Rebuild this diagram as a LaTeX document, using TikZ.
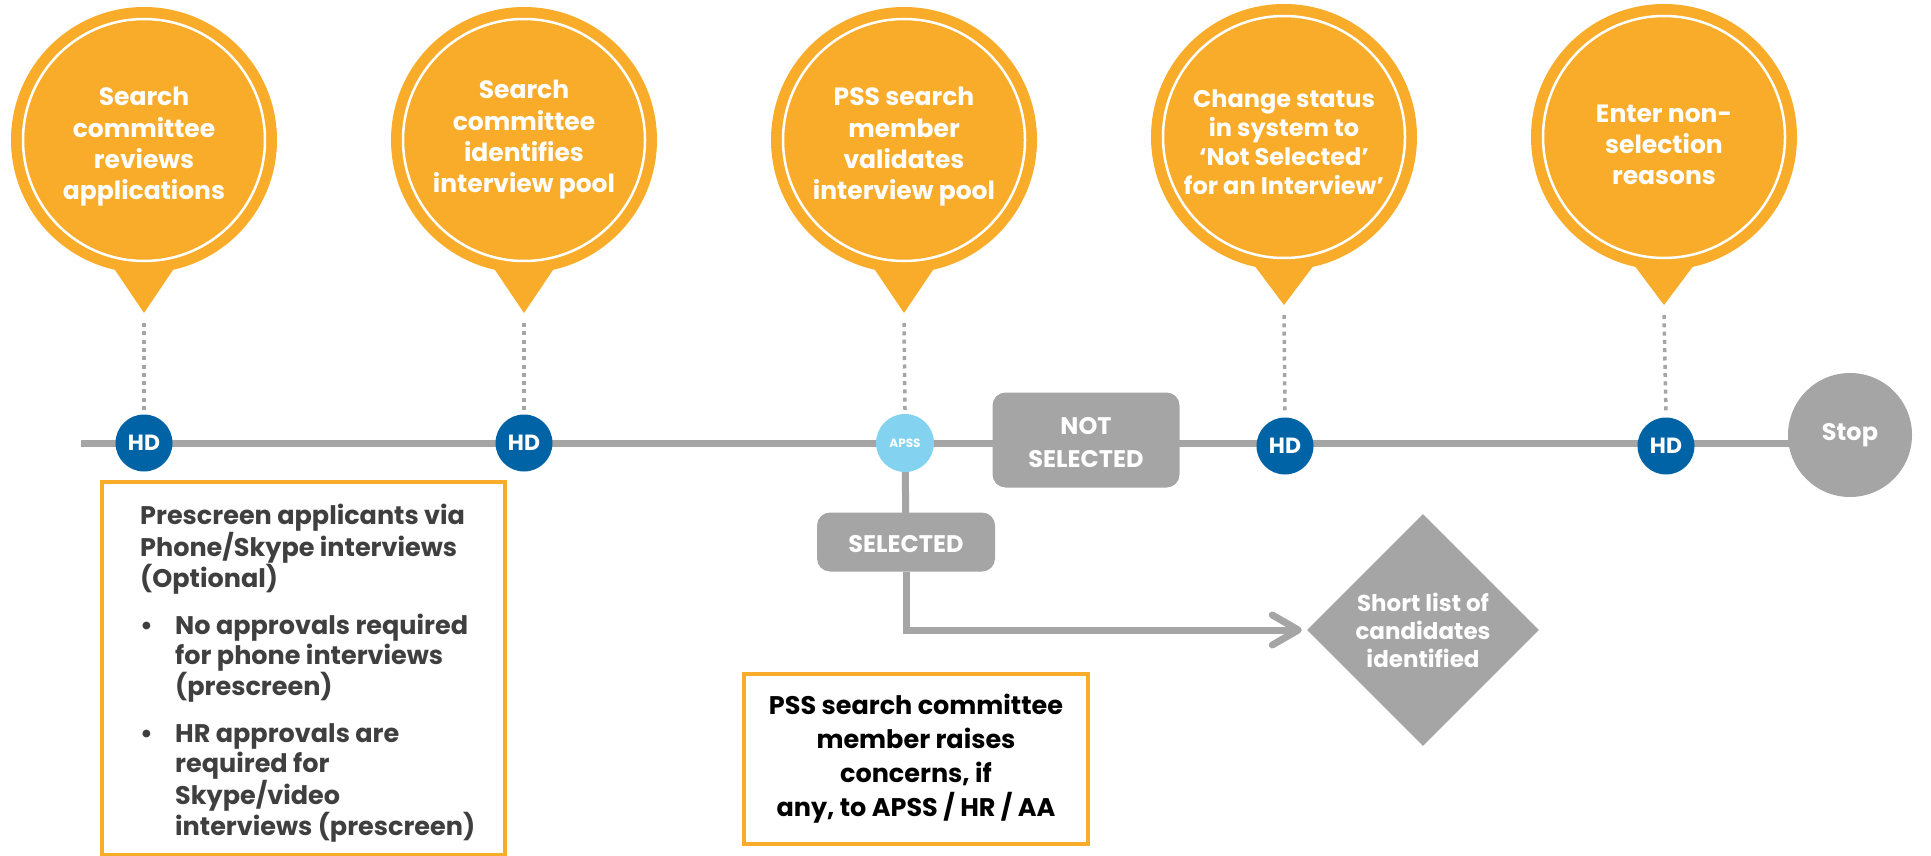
\documentclass[tikz,border=0pt]{standalone}
\usepackage{fontspec}
\setmainfont{Poppins}
\usetikzlibrary{shapes.geometric,arrows.meta,calc}
\definecolor{org}{HTML}{F9AC2A}
\definecolor{gr}{HTML}{A5A5A5}
\definecolor{hdblue}{HTML}{0063A5}
\definecolor{lblue}{HTML}{83D3F0}
\definecolor{dtext}{HTML}{3F3F3F}
\pgfdeclarelayer{bg}
\pgfsetlayers{bg,main}
\begin{document}
\begin{tikzpicture}[x=1pt,y=-1pt,
  balloon/.style={circle, fill=org, minimum size=266pt, inner sep=0pt},
  ring/.style={white, line width=2.5pt},
  btext/.style={text=white, font=\bfseries\fontsize{25}{31.3}\selectfont, align=center, inner sep=0pt},
  hd/.style={circle, fill=hdblue, minimum size=57pt, inner sep=0pt, text=white, font=\bfseries\fontsize{22}{22}\selectfont},
  apssnode/.style={circle, fill=lblue, minimum size=58pt, inner sep=0pt, text=white, font=\bfseries\fontsize{12}{12}\selectfont},
  dotline/.style={gr, line width=3.5pt, dash pattern=on 4pt off 4.3pt},
  track/.style={gr, line width=7pt},
  graybox/.style={rectangle, rounded corners=13pt, fill=gr, inner sep=0pt},
  graytext/.style={text=white, font=\bfseries\fontsize{24}{33}\selectfont, align=center, inner sep=0pt},
  notebox/.style={draw=org, line width=3.5pt, fill=white, inner sep=0pt}
]
\useasboundingbox (0,0) rectangle (1931,856);

% balloons
\foreach \n/\x/\y/\ty in {1/144/140/313, 2/524/140/313, 3/904/140/313, 4/1284/137/305, 5/1664/137/305}{
  \node[balloon] (b\n) at (\x,\y) {};
  \coordinate (tip\n) at (\x,\ty);
  \fill[org] ($(b\n.center)+(-33,124)$) -- ($(b\n.center)+(33,124)$) -- (tip\n) -- cycle;
  \draw[ring] (b\n.center) circle[radius=121pt];
}
\node[btext] (t1) at (144,147) {Search\\committee\\reviews\\applications};
\node[btext] (t2) at (524,140) {Search\\committee\\identifies\\interview pool};
\node[btext] (t3) at (904,147) {PSS search\\member\\validates\\interview pool};
\node[btext, font=\bfseries\fontsize{24}{29}\selectfont] (t4) at (1284,142) {Change status\\in system to\\‘Not Selected’\\for an Interview’};
\node[btext] (t5) at (1664,145) {Enter non-\\selection\\reasons};

% timeline nodes
\coordinate (start) at (81,443);
\node[hd] (hd1) at (144,443) {\raisebox{-2pt}{HD}};
\node[hd] (hd2) at (524,443) {\raisebox{-2pt}{HD}};
\node[apssnode] (apss) at (905,443) {APSS};
\node[graybox, minimum width=187pt, minimum height=95pt] (notsel) at (1086,440) {};
\node[graytext] (notseltext) at ([yshift=-3pt]notsel.center) {NOT\\SELECTED};
\node[hd] (hd4) at (1285,446) {\raisebox{-2pt}{HD}};
\node[hd] (hd5) at (1666,446) {\raisebox{-2pt}{HD}};
\node[circle, fill=gr, minimum size=124pt, inner sep=0pt, text=white, font=\bfseries\fontsize{24}{24}\selectfont] (stop) at (1850,435) {\raisebox{-3pt}{Stop}};

\begin{pgfonlayer}{bg}
  \draw[track] (start) -- (start -| stop.center);
\end{pgfonlayer}

% dotted drops
\foreach \n/\h in {1/hd1, 2/hd2, 3/apss, 4/hd4, 5/hd5}{
  \draw[dotline] ($(tip\n)+(0,10)$) -- ([yshift=4pt]\h.north);
}

% selected branch
\node[graybox, minimum width=178pt, minimum height=59pt] (sel) at (906,542) {};
\node[graytext] (seltext) at ([yshift=-2pt]sel.center) {SELECTED};
\node[diamond, fill=gr, minimum width=232pt, minimum height=232pt, inner sep=0pt] (dia) at (1423,630) {};
\node[text=white, font=\bfseries\fontsize{23}{28}\selectfont, align=center] (diatext) at (dia.center) {Short list of\\candidates\\identified};
\begin{pgfonlayer}{bg}
  \draw[track] (apss.center) -- (sel.center);
\end{pgfonlayer}
\draw[track, -{Straight Barb[length=26pt, width=30pt, round]}, shorten >=5pt] (sel.south) |- (dia.west);

% note boxes
\node[notebox, minimum width=403pt, minimum height=373pt, anchor=north west] (note1) at (100,480) {};
\node[anchor=north west, text=dtext, font=\bfseries\fontsize{25.5}{30}\selectfont, align=left, inner sep=0pt] (note1text) at (140,504)
  {Prescreen applicants via\\Phone/Skype interviews\\(Optional)\\[17pt]
   \makebox[35pt][l]{•}No approvals required\\\hspace*{35pt}for phone interviews\\\hspace*{35pt}(prescreen)\\[17pt]
   \makebox[35pt][l]{•}HR approvals are\\\hspace*{35pt}required for\\\hspace*{35pt}Skype/video\\\hspace*{35pt}interviews (prescreen)};

\node[notebox, minimum width=344pt, minimum height=170pt, text=black, font=\bfseries\fontsize{25.5}{34}\selectfont, align=center] (note2) at (916,759)
  {PSS search committee\\member raises\\concerns, if\\any, to APSS / HR / AA};
\end{tikzpicture}
\end{document}
